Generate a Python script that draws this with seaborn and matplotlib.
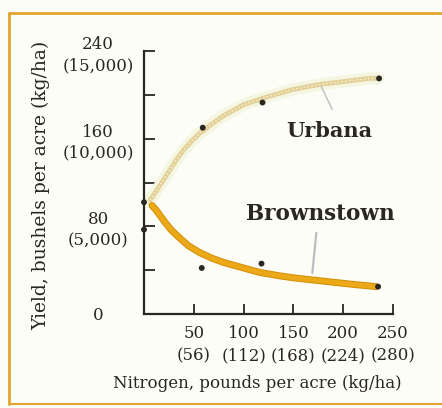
import matplotlib
matplotlib.use("Agg")
import matplotlib.pyplot as plt
from matplotlib.lines import Line2D
import seaborn as sns
import pandas as pd

# ---- data ----
urbana_pts_x = [0, 59, 119, 236]
urbana_pts_y = [102, 170, 193, 215]
brown_pts_x = [0, 58, 118, 235]
brown_pts_y = [77, 42, 46, 25]

urbana_curve_x = [6, 10, 15, 20, 25, 32, 40, 48, 56, 66, 80, 100, 123, 150, 180, 200, 226, 235]
urbana_curve_y = [104, 109, 116, 123, 130, 140, 150, 158, 165, 172, 181, 191, 198, 205, 210, 212, 215, 215]
brown_curve_x = [8, 12, 16, 20, 27, 35, 45, 56, 68, 80, 100, 116, 135, 150, 180, 210, 233]
brown_curve_y = [99, 95, 90, 85, 77, 70, 62, 56, 51, 47, 42, 38, 35, 33, 30, 27, 25]

x_ticks = [50, 100, 150, 200, 250]
x_tick_labels = ["50\n(56)", "100\n(112)", "150\n(168)", "200\n(224)", "250\n(280)"]
y_ticks = [0, 80, 160, 240]
y_tick_labels = ["0", "80\n(5,000)", "160\n(10,000)", "240\n(15,000)"]
y_minor = [40, 120, 200]

sns.set_style("white")
plt.rcParams["font.family"] = ["DejaVu Serif"]

BG = "#fdfdf8"
INK = "#2a2620"
fig = plt.figure(figsize=(4.42, 4.08), dpi=100, facecolor=BG)
ax = fig.add_axes([144/442, 94/408, 249/442, 263/408])
ax.set_facecolor(BG)

uc = pd.DataFrame({"x": urbana_curve_x, "y": urbana_curve_y})
bc = pd.DataFrame({"x": brown_curve_x, "y": brown_curve_y})
up = pd.DataFrame({"x": urbana_pts_x, "y": urbana_pts_y})
bp = pd.DataFrame({"x": brown_pts_x, "y": brown_pts_y})

# Urbana curve: pale glow + tan dotted band
sns.lineplot(data=uc, x="x", y="y", ax=ax, color="#f3f4da", lw=9, alpha=0.7, sort=False)
sns.lineplot(data=uc, x="x", y="y", ax=ax, color="#e2d097", lw=3.4, sort=False)
sns.lineplot(data=uc, x="x", y="y", ax=ax, color="#f7efd6", lw=1.1, ls=(0, (1, 1.5)), sort=False)
# Brownstown curve: thick orange-gold
sns.lineplot(data=bc, x="x", y="y", ax=ax, color="#d38e08", lw=5, sort=False,
             solid_capstyle="round")
sns.lineplot(data=bc, x="x", y="y", ax=ax, color="#eca917", lw=3.6, sort=False,
             solid_capstyle="round")

for df in (up, bp):
    sns.scatterplot(data=df, x="x", y="y", ax=ax, color=INK, s=18, edgecolor="none",
                    zorder=5, clip_on=False)

ax.set_xlim(0, 250)
ax.set_ylim(0, 240)
for s in ("top", "right"):
    ax.spines[s].set_visible(False)
for s in ("left", "bottom"):
    ax.spines[s].set_color(INK)
    ax.spines[s].set_linewidth(1.6)

ax.set_xticks(x_ticks)
ax.set_xticklabels(x_tick_labels, fontsize=12, color=INK, linespacing=1.4)
ax.set_yticks(y_ticks)
ax.set_yticklabels(y_tick_labels, fontsize=12, color=INK, linespacing=1.3,
                   ha="center")
ax.set_yticks(y_minor, minor=True)
ax.tick_params(axis="x", bottom=True, direction="in", length=7, width=1.3, color=INK, pad=8)
ax.tick_params(axis="y", which="both", left=True, direction="in", length=8, width=1.3,
               color=INK, pad=33)
ax.set_xlabel("Nitrogen, pounds per acre (kg/ha)", fontsize=12, color=INK)
ax.set_ylabel("Yield, bushels per acre (kg/ha)", fontsize=13.5, color=INK)
ax.xaxis.set_label_coords(113/249, -61/263)
ax.yaxis.set_label_coords(-94/249, 129/263)

# series labels and leader lines
ax.text(186, 167, "Urbana", fontsize=15, fontweight="bold", color=INK,
        ha="center", va="center")
ax.text(177, 91, "Brownstown", fontsize=15.5, fontweight="bold", color=INK,
        ha="center", va="center")
ax.plot([178, 189], [207.6, 186.6], color="#c2c2c2", lw=1.1)
ax.plot([173, 169], [74, 37.4], color="#bdbdbd", lw=1.6)

# orange frame (top, left, bottom)
fc = "#e2a431"
fig.add_artist(Line2D([9/442, 1.0], [1 - 12.5/408] * 2, color=fc, lw=2))
fig.add_artist(Line2D([9/442] * 2, [1 - 12.5/408, 4/408], color=fc, lw=2))
fig.add_artist(Line2D([9/442, 1.0], [4/408] * 2, color=fc, lw=1.5))

fig.savefig("out.png", dpi=100, facecolor=BG)
